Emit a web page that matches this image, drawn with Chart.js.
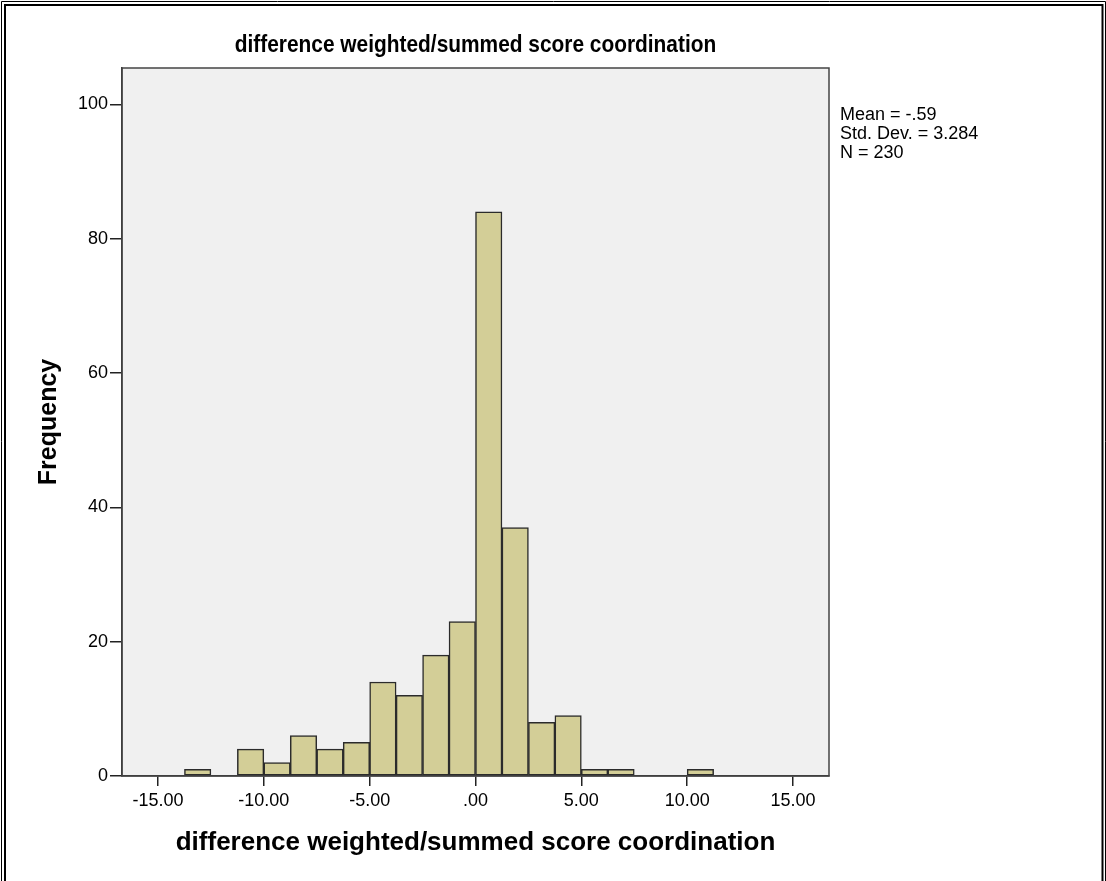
<!DOCTYPE html>
<html>
<head>
<meta charset="utf-8">
<script src="https://cdn.jsdelivr.net/npm/chart.js@4.4.1/dist/chart.umd.min.js"></script>
<style>
html,body{margin:0;padding:0;background:#fff;}
#wrap{width:1106px;height:881px;position:relative;}
</style>
</head>
<body>
<div id="wrap"><canvas id="hist" width="1106" height="881"></canvas></div>
<script>
// bin centres (width 1.25) and frequencies
const binCenters=[-13.125,-11.875,-10.625,-9.375,-8.125,-6.875,-5.625,-4.375,-3.125,-1.875,-0.625,0.625,1.875,3.125,4.375,5.625,6.875,8.125,9.375,10.625];
const counts=[1,0,4,2,6,4,5,14,12,18,23,84,37,8,9,1,1,0,0,1];
const xTicks=[-15,-10,-5,0,5,10,15];
const yTicks=[0,20,40,60,80,100];
const titleText="difference weighted/summed score coordination";
const xTitle="difference weighted/summed score coordination";
const yTitle="Frequency";
const stats=["Mean = -.59","Std. Dev. = 3.284","N = 230"];

const FONT="'Liberation Sans', Arial, sans-serif";

const decor={
id:'decor',
beforeDraw(chart){
const c=chart.ctx, a=chart.chartArea;
c.save();
c.fillStyle='#f0f0f0';
c.fillRect(a.left,a.top,a.right-a.left,a.bottom-a.top);
c.restore();
},
afterDraw(chart){
const c=chart.ctx, a=chart.chartArea;
c.save();
// plot frame
c.strokeStyle='#444';
c.lineWidth=1.5;
c.strokeRect(a.left,a.top,a.right-a.left,a.bottom-a.top);
// outer double frame
c.strokeStyle='#000';
c.lineWidth=1;
c.beginPath();
c.moveTo(1.5,881);c.lineTo(1.5,1.5);c.lineTo(1105.5,1.5);c.lineTo(1105.5,881);
c.stroke();
c.lineWidth=2;
c.beginPath();
c.moveTo(5,881);c.lineTo(5,5);c.lineTo(1102.5,5);c.lineTo(1102.5,881);
c.stroke();
// texts
c.fillStyle='#000';
c.textAlign='center';
c.textBaseline='middle';
// title is tall and narrow in the original
c.save();
c.translate((a.left+a.right)/2,45);
c.scale(0.87,1);
c.font="bold 24px "+FONT;
c.fillText(titleText,0,0);
c.restore();
c.font="bold 26px "+FONT;
c.fillText(xTitle,(a.left+a.right)/2,843);
c.save();
c.translate(49,422);
c.rotate(-Math.PI/2);
c.font="bold 25px "+FONT;
c.fillText(yTitle,0,0);
c.restore();
c.textAlign='left';
c.font="18px "+FONT;
stats.forEach((s,i)=>c.fillText(s,840,115+i*19));
c.restore();
}
};

new Chart(document.getElementById("hist"),{
type:'bar',
data:{
datasets:[{
data:binCenters.map((x,i)=>({x:x,y:counts[i]>0?counts[i]:null})),
backgroundColor:'#d3ce97',
borderColor:'#2b2b2b',
borderWidth:1.5,
borderSkipped:false,
barPercentage:1,
categoryPercentage:1
}]
},
options:{
responsive:false,
animation:false,
layout:{padding:{top:68,right:277,left:0,bottom:0}},
plugins:{legend:{display:false},tooltip:{enabled:false}},
scales:{
x:{
type:'linear',
offset:false,
min:-16.7,
max:16.7,
afterBuildTicks:s=>{s.ticks=xTicks.map(v=>({value:v}));},
afterFit:s=>{s.height=105;},
grid:{display:true,offset:false,drawOnChartArea:false,drawTicks:true,tickLength:10,color:'#222',lineWidth:1.5},
border:{display:true,color:'#333',width:1.5},
ticks:{
padding:4,
color:'#000',
font:{family:FONT,size:18},
maxRotation:0,
callback:v=>v===0?'.00':v.toFixed(2)
}
},
y:{
min:0,
max:105.4,
afterBuildTicks:s=>{s.ticks=yTicks.map(v=>({value:v}));},
afterFit:s=>{s.width=122;},
grid:{display:true,drawOnChartArea:false,drawTicks:true,tickLength:12,color:'#222',lineWidth:1.5},
border:{display:true,color:'#333',width:1.5},
ticks:{padding:2,color:'#000',font:{family:FONT,size:18}}
}
}
},
plugins:[decor]
});
</script>
</body>
</html>
